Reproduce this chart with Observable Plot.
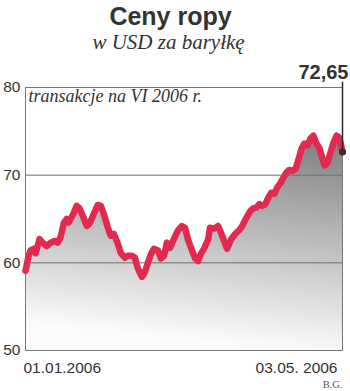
<!DOCTYPE html>
<html>
<head>
<meta charset="utf-8">
<script src="https://cdn.jsdelivr.net/npm/d3@7"></script>
<script src="https://cdn.jsdelivr.net/npm/@observablehq/plot@0.6"></script>
<style>
  html, body { margin: 0; padding: 0; background: #fff; }
  #chart { width: 350px; height: 391px; }
</style>
</head>
<body>
<div id="chart"></div>
<script>
// Day offset from 01.01.2006 (0) to 03.05.2006 (122)
const days = [0, 1.2, 1.9, 3.1, 3.9, 5.4, 6.6, 8.1, 9.7, 11.2, 12.4, 13.5, 14.7, 15.8, 16.6, 18.1, 19.7, 20.8, 22.0, 23.6,
  24.7, 26.3, 27.8, 29.0, 30.1, 31.7, 32.8, 34.0, 35.5, 36.7, 38.2, 39.4, 40.9, 42.1, 43.2, 44.8, 45.9, 47.1, 48.3, 49.4,
  51.0, 52.1, 53.3, 54.4, 55.6, 57.1, 58.7, 60.2, 61.4, 62.5, 64.1, 65.3, 66.4, 67.6, 68.7, 70.3, 71.0, 72.6, 74.1, 75.3,
  76.8, 77.6, 79.1, 80.7, 82.2, 83.4, 84.9, 86.5, 87.6, 88.8, 90.0, 91.1, 92.3, 93.4, 94.6, 95.8, 96.9, 98.1, 99.2, 100.4,
  101.5, 102.7, 103.9, 105.0, 106.2, 107.3, 108.5, 109.7, 110.8, 112.0, 113.1, 114.3, 115.1, 116.2, 117.4, 118.5, 119.7, 120.8, 122];
// Oil price, USD per barrel
const prices = [59.1, 60.8, 61.4, 61.6, 61.1, 62.7, 62.3, 61.9, 62.3, 62.5, 62.3, 62.9, 64.5, 65.0, 64.6, 65.4, 66.5, 66.2, 65.4, 64.2,
  64.5, 65.6, 66.6, 66.5, 65.6, 64.0, 63.1, 63.3, 62.2, 61.1, 60.6, 60.8, 60.8, 60.6, 59.4, 58.4, 58.9, 60.0, 61.0, 61.6,
  61.4, 60.5, 60.8, 62.3, 61.7, 62.7, 63.7, 64.2, 64.0, 62.7, 61.4, 60.5, 60.2, 61.1, 61.6, 62.7, 64.0, 63.9, 64.2, 63.4,
  62.2, 61.6, 62.7, 63.3, 63.7, 64.2, 65.1, 65.9, 66.2, 66.3, 66.7, 66.5, 66.7, 67.4, 68.0, 67.9, 68.6, 69.1, 69.7, 70.3,
  70.6, 70.5, 70.7, 71.7, 73.0, 73.6, 73.4, 74.2, 74.5, 73.6, 73.1, 71.9, 71.1, 71.4, 72.6, 73.7, 74.5, 74.3, 72.65];

const yTicks = [50, 60, 70, 80];
const gridValues = [60, 70];
const xLabels = ["01.01.2006", "03.05. 2006"];
const titleText = "Ceny ropy";
const subtitleText = "w USD za baryłkę";
const noteText = "transakcje na VI 2006 r.";
const sourceText = "B.G.";
const lastDay = 122;
const lastPrice = 72.65;
const lastLabel = "72,65";
const labelTop = 80.6;

const data = days.map((d, i) => ({day: d, price: prices[i]}));

const gradientDefs = () => {
  const ns = "http://www.w3.org/2000/svg";
  const defs = document.createElementNS(ns, "defs");
  defs.innerHTML = `<linearGradient id="oilGrad" x1="1" y1="0" x2="0.85" y2="1">
      <stop offset="0" stop-color="#7d7d7d"/>
      <stop offset="1" stop-color="#fbfbfb"/>
    </linearGradient>`;
  return defs;
};

const sans = "'Liberation Sans', Arial, Helvetica, sans-serif";
const serif = "'Liberation Serif', 'Times New Roman', serif";

const chart = Plot.plot({
  width: 350,
  height: 391,
  marginLeft: 25,
  marginRight: 8,
  marginTop: 87,
  marginBottom: 41,
  style: {fontFamily: sans, color: "#333", background: "#fff"},
  x: {domain: [0, lastDay], axis: null},
  y: {domain: [50, 80], axis: null},
  marks: [
    gradientDefs,
    Plot.areaY(data, {x: "day", y1: 50, y2: "price", fill: "url(#oilGrad)"}),
    Plot.ruleY(gridValues, {stroke: "#6e6e6e", strokeWidth: 1}),
    Plot.frame({stroke: "#777", strokeWidth: 1}),
    Plot.axisY(yTicks, {tickSize: 0, tickPadding: 5, fontSize: 15.5, fill: "#333", label: null}),
    Plot.line(data, {x: "day", y: "price", stroke: "#e2294f", strokeWidth: 6.5, strokeLinejoin: "round", strokeLinecap: "round"}),
    Plot.ruleX([lastDay], {y1: lastPrice, y2: labelTop, stroke: "#2a2a2a", strokeWidth: 1.5}),
    Plot.dot([{day: lastDay, price: lastPrice}], {x: "day", y: "price", r: 3.5, fill: "#3a2a2e", stroke: "none"}),
    Plot.text([lastLabel], {text: d => d, frameAnchor: "top-right", dx: 6, dy: -9, textAnchor: "end", lineAnchor: "bottom", fontSize: 20, fontWeight: "bold", fill: "#333"}),
    Plot.text([titleText], {text: d => d, frameAnchor: "top-left", dx: 145, dy: -63, textAnchor: "middle", lineAnchor: "bottom", fontSize: 25, fontWeight: "bold", fill: "#333"}),
    Plot.text([subtitleText], {text: d => d, frameAnchor: "top-left", dx: 143, dy: -39, textAnchor: "middle", lineAnchor: "bottom", fontSize: 21, fontStyle: "italic", fontFamily: serif, fill: "#333"}),
    Plot.text([noteText], {text: d => d, frameAnchor: "top-left", dx: 3, dy: 14, textAnchor: "start", lineAnchor: "bottom", fontSize: 18, fontStyle: "italic", fontFamily: serif, fill: "#333"}),
    Plot.text([xLabels[0]], {text: d => d, frameAnchor: "bottom-left", dx: -2, dy: 22, textAnchor: "start", lineAnchor: "bottom", fontSize: 15.5, fill: "#333"}),
    Plot.text([xLabels[1]], {text: d => d, frameAnchor: "bottom-right", dx: -5, dy: 22, textAnchor: "end", lineAnchor: "bottom", fontSize: 15.5, fill: "#333"}),
    Plot.text([sourceText], {text: d => d, frameAnchor: "bottom-right", dx: 0, dy: 37, textAnchor: "end", lineAnchor: "bottom", fontSize: 10.5, fontFamily: serif, fill: "#555"})
  ]
});
document.getElementById("chart").appendChild(chart);
</script>
</body>
</html>
